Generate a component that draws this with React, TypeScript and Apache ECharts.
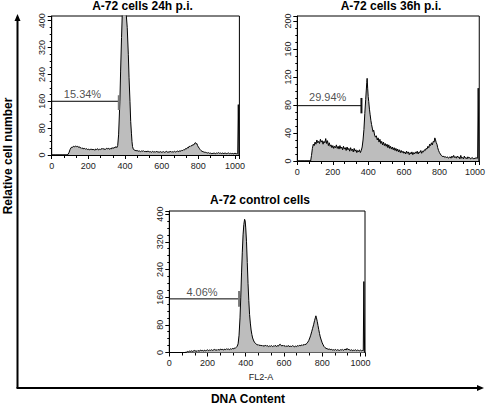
import React, { useEffect, useRef } from "react";
import * as echarts from "echarts";

const FONT = "'Liberation Sans', Arial, Helvetica, sans-serif";

const panelTitles = ["A-72 cells 24h p.i.", "A-72 cells 36h p.i.", "A-72 control cells"];
const percentLabels = ["15.34%", "29.94%", "4.06%"];
const xTickValues = [0, 200, 400, 600, 800, 1000];
const yTickValues24 = [0, 80, 160, 240, 320, 400];
const yTickValues36 = [0, 40, 80, 120, 160, 200];
const yTickValuesCtrl = [0, 80, 160, 240, 320, 400];

// [channel, count] pairs
const hist24h: [number, number][] = [
  [0,0],[20,0],[40,0],[60,0],[80,0],[88,1],[95,8],[100,16],[105,21],[110,24],[115,23],[120,26],[125,24],[130,27],[135,25],[140,26],[145,23],[150,25],[155,21],[160,22],[165,19],[170,21],[175,18],[180,20],[185,17],[190,19],[195,16],[200,18],[205,15],[210,17],[215,16],[220,18],[225,15],[230,17],[235,14],[240,18],[245,16],[250,19],[255,15],[260,17],[265,16],[270,19],[275,17],[280,20],[285,16],[290,18],[295,17],[300,20],[305,18],[310,21],[315,17],[320,19],[325,18],[330,22],[335,19],[340,23],[345,21],[350,25],[355,22],[360,28],[365,60],[372,160],[376,250],[381,350],[385,420],[390,460],[395,470],[400,455],[405,430],[412,380],[418,300],[422,230],[427,160],[431,100],[435,65],[438,40],[441,25],[445,18],[450,15],[455,13],[460,14],[465,12],[470,13],[475,11],[480,12],[485,10],[490,12],[495,11],[500,13],[505,10],[510,11],[515,9],[520,12],[525,10],[530,11],[535,9],[540,10],[545,8],[550,11],[555,9],[560,10],[565,8],[570,11],[575,9],[580,10],[585,8],[590,9],[595,10],[600,8],[605,9],[610,10],[615,8],[620,9],[625,11],[630,9],[635,8],[640,10],[645,9],[650,11],[655,8],[660,10],[665,9],[670,11],[675,9],[680,10],[685,12],[690,10],[695,11],[700,13],[705,11],[710,14],[715,13],[720,16],[725,15],[730,19],[735,18],[740,22],[745,21],[750,26],[755,25],[760,28],[765,27],[770,31],[775,30],[780,35],[784,37],[788,33],[792,34],[796,28],[800,24],[805,20],[810,16],[815,13],[820,11],[825,10],[830,9],[835,8],[840,8],[845,7],[850,6],[855,7],[860,5],[865,6],[870,4],[875,5],[880,4],[885,6],[890,5],[895,4],[900,6],[905,5],[910,7],[915,5],[920,6],[925,4],[930,6],[935,5],[940,4],[945,6],[950,5],[955,4],[960,5],[965,6],[970,4],[975,5],[980,4],[985,5],[990,3],[995,5],[1000,4],[1005,5],[1010,3],[1015,4],[1017,4],[1018,150],[1021,150],[1022,0]
];

const hist36h: [number, number][] = [
  [0,0],[20,0],[40,0],[60,0],[75,0],[80,8],[85,18],[90,24],[95,22],[100,27],[105,24],[110,30],[115,26],[120,28],[125,25],[130,31],[135,27],[140,29],[145,24],[150,28],[155,26],[160,32],[165,25],[170,29],[175,22],[180,26],[185,21],[190,23],[195,19],[200,22],[205,18],[210,21],[215,19],[220,23],[225,18],[230,21],[235,17],[240,22],[245,18],[250,20],[255,16],[260,21],[265,17],[270,19],[275,15],[280,20],[285,16],[290,18],[295,14],[300,19],[305,15],[310,17],[315,13],[320,18],[325,14],[330,16],[335,12],[340,15],[345,13],[350,16],[355,12],[360,15],[365,20],[370,30],[375,45],[380,68],[385,88],[388,100],[391,112],[393,118],[396,104],[399,92],[402,85],[406,74],[410,66],[414,58],[418,52],[422,47],[426,42],[430,44],[435,37],[440,34],[445,36],[450,30],[455,33],[460,27],[465,31],[470,25],[475,28],[480,23],[485,27],[490,22],[495,25],[500,21],[505,24],[510,19],[515,23],[520,18],[525,21],[530,17],[535,20],[540,16],[545,19],[550,15],[555,18],[560,14],[565,17],[570,13],[575,16],[580,12],[585,15],[590,12],[595,14],[600,11],[605,13],[610,10],[615,14],[620,11],[625,13],[630,9],[635,12],[640,10],[645,13],[650,9],[655,12],[660,10],[665,13],[670,11],[675,14],[680,10],[685,13],[690,12],[695,15],[700,11],[705,14],[710,13],[715,16],[720,15],[725,18],[730,17],[735,21],[740,19],[745,24],[750,22],[755,26],[760,23],[765,28],[770,27],[774,33],[778,30],[782,26],[786,24],[790,19],[795,15],[800,12],[805,10],[810,8],[815,7],[820,6],[825,7],[830,5],[835,6],[840,5],[845,6],[850,4],[855,5],[860,6],[865,4],[870,7],[875,5],[880,8],[885,5],[890,6],[895,4],[900,7],[905,5],[910,6],[915,3],[920,8],[925,4],[930,5],[935,3],[940,7],[945,4],[950,5],[955,3],[960,6],[965,4],[970,5],[975,3],[980,4],[985,5],[990,3],[995,4],[1000,3],[1005,5],[1010,4],[1015,4],[1017,4],[1018,104],[1021,104],[1022,0]
];

const histControl: [number, number][] = [
  [0,0],[20,0],[40,0],[60,0],[80,0],[90,1],[95,3],[100,2],[105,4],[110,3],[115,5],[120,3],[125,4],[130,6],[135,4],[140,5],[145,3],[150,6],[155,4],[160,5],[165,7],[170,5],[175,6],[180,4],[185,7],[190,5],[195,6],[200,8],[205,5],[210,7],[215,6],[220,8],[225,6],[230,7],[235,9],[240,7],[245,8],[250,6],[255,9],[260,7],[265,8],[270,10],[275,8],[280,9],[285,7],[290,10],[295,8],[300,11],[305,9],[310,10],[315,8],[320,11],[325,9],[330,12],[335,10],[340,13],[345,12],[350,15],[355,18],[360,25],[365,50],[370,100],[374,160],[378,230],[382,290],[386,340],[390,370],[394,385],[397,380],[400,360],[404,320],[408,260],[412,200],[416,150],[420,110],[424,85],[428,65],[432,52],[436,42],[440,36],[445,30],[450,27],[455,24],[460,22],[465,23],[470,20],[475,22],[480,19],[485,21],[490,18],[495,20],[500,19],[505,21],[510,18],[515,20],[520,17],[525,19],[530,18],[535,20],[540,17],[545,19],[550,18],[555,21],[560,17],[565,20],[570,18],[575,22],[580,24],[585,20],[590,19],[595,21],[600,18],[605,20],[610,17],[615,19],[620,18],[625,20],[630,16],[635,19],[640,17],[645,20],[650,18],[655,16],[660,19],[665,17],[670,20],[675,18],[680,21],[685,19],[690,22],[695,20],[700,23],[705,21],[710,24],[715,23],[720,27],[725,30],[730,35],[735,42],[740,50],[745,60],[750,70],[755,80],[760,92],[764,100],[767,106],[770,100],[774,90],[778,78],[782,66],[786,55],[790,45],[795,36],[800,28],[805,22],[810,17],[815,14],[820,12],[825,11],[830,10],[835,9],[840,10],[845,8],[850,9],[855,7],[860,8],[865,7],[870,9],[875,6],[880,8],[885,7],[890,6],[895,8],[900,7],[905,9],[910,6],[915,8],[920,10],[925,7],[930,12],[935,8],[940,9],[945,7],[950,6],[955,8],[960,5],[965,7],[970,6],[975,8],[980,5],[985,7],[990,6],[995,5],[1000,7],[1005,5],[1010,6],[1015,5],[1017,5],[1018,205],[1021,205],[1022,0]
];

// M1 marker: [start channel, end channel, height]
const markers: [number, number, number][] = [
  [0, 363, 160],
  [0, 360, 79],
  [0, 363, 155],
];
const markerTicks: [number, number, number][] = [
  [366, 134, 178],
  [361, 68, 90],
  [365, 132, 178],
];
const percentPos: [number, number][] = [
  [168, 182],
  [171, 92],
  [171, 174],
];
const yMax = [414, 207, 409];
const yInterval = [80, 40, 80];
const yTickSets = [yTickValues24, yTickValues36, yTickValuesCtrl];
const histograms = [hist24h, hist36h, histControl];

export default function App() {
  const ref = useRef<HTMLDivElement>(null);
  useEffect(() => {
    if (!ref.current) return;
    const chart = echarts.init(ref.current, undefined, { renderer: "svg" });

    const grids = [
      { left: 51.7, top: 16, width: 187.7, height: 139 },
      { left: 297.3, top: 16, width: 186.5, height: 145 },
      { left: 169.3, top: 211, width: 195.7, height: 141.5 },
    ].map((g) => ({ ...g, show: true, borderColor: "#000", borderWidth: 1, containLabel: false }));

    const xAxes = [0, 1, 2].map((i) => ({
      type: "value",
      gridIndex: i,
      min: 0,
      max: 1024,
      interval: 200,
      axisLine: { show: true, onZero: false, lineStyle: { color: "#000", width: 1 } },
      axisTick: { show: true, length: 4, lineStyle: { color: "#000" } },
      minorTick: { show: true, splitNumber: 3, length: 3, lineStyle: { color: "#000" } },
      axisLabel: {
        fontSize: 9,
        color: "#222",
        margin: 6,
        fontFamily: FONT,
        formatter: (v: number) => (xTickValues.includes(v) ? String(v) : ""),
      },
      splitLine: { show: false },
    }));

    const yAxes = [0, 1, 2].map((i) => ({
      type: "value",
      gridIndex: i,
      min: 0,
      max: yMax[i],
      interval: yInterval[i],
      axisLine: { show: true, lineStyle: { color: "#000", width: 1 } },
      axisTick: { show: true, length: 4, lineStyle: { color: "#000" } },
      minorTick: { show: true, splitNumber: 4, length: 2, lineStyle: { color: "#000" } },
      axisLabel: {
        fontSize: 9,
        color: "#222",
        margin: 5,
        rotate: 90,
        fontFamily: FONT,
        formatter: (v: number) => (yTickSets[i].includes(v) ? String(v) : ""),
      },
      splitLine: { show: false },
    }));

    const series: any[] = [];
    histograms.forEach((h, i) => {
      series.push({
        type: "line",
        xAxisIndex: i,
        yAxisIndex: i,
        data: h,
        symbol: "none",
        showSymbol: false,
        clip: true,
        lineStyle: { color: "#000", width: 1 },
        areaStyle: { color: "#bdbdbd", opacity: 1 },
        silent: true,
        z: 2,
      });
      const [x0, x1, yy] = markers[i];
      series.push({
        type: "line",
        xAxisIndex: i,
        yAxisIndex: i,
        data: [[x0, yy], [x1, yy]],
        symbol: "none",
        lineStyle: { color: "#000", width: 1 },
        silent: true,
        z: 3,
      });
      const [tx, ty0, ty1] = markerTicks[i];
      series.push({
        type: "line",
        xAxisIndex: i,
        yAxisIndex: i,
        data: [[tx, ty0], [tx, ty1]],
        symbol: "none",
        lineStyle: { color: i === 1 ? "#111" : "#777", width: 2 },
        silent: true,
        z: 3,
      });
      series.push({
        type: "scatter",
        xAxisIndex: i,
        yAxisIndex: i,
        data: [percentPos[i]],
        symbolSize: 1,
        itemStyle: { color: "rgba(0,0,0,0)" },
        label: {
          show: true,
          position: "inside",
          formatter: percentLabels[i],
          fontSize: 11,
          color: "#222",
          fontFamily: FONT,
        },
        silent: true,
        z: 4,
      });
    });

    const titleStyle = { fontSize: 12, fontWeight: "bold", fill: "#000", fontFamily: FONT, textAlign: "center", textVerticalAlign: "middle" };

    chart.setOption({
      animation: false,
      backgroundColor: "#fff",
      grid: grids,
      xAxis: xAxes,
      yAxis: yAxes,
      series,
      graphic: [
        { type: "text", x: 142.5, y: 6, style: { ...titleStyle, text: panelTitles[0] } },
        { type: "text", x: 391, y: 6, style: { ...titleStyle, text: panelTitles[1] } },
        { type: "text", x: 260, y: 200, style: { ...titleStyle, text: panelTitles[2] } },
        { type: "text", x: 261, y: 377, style: { fontSize: 9, fill: "#222", fontFamily: FONT, textAlign: "center", textVerticalAlign: "middle", text: "FL2-A" } },
        { type: "line", shape: { x1: 17.5, y1: 388, x2: 17.5, y2: 19 }, style: { stroke: "#000", lineWidth: 2 } },
        { type: "polygon", shape: { points: [[14.5, 21], [20.5, 21], [17.5, 14]] }, style: { fill: "#000" } },
        { type: "line", shape: { x1: 16.5, y1: 388, x2: 479, y2: 388 }, style: { stroke: "#000", lineWidth: 2 } },
        { type: "polygon", shape: { points: [[477, 385], [477, 391], [484, 388]] }, style: { fill: "#000" } },
        { type: "text", x: 8, y: 156, rotation: Math.PI / 2, style: { fontSize: 12, fontWeight: "bold", fill: "#000", fontFamily: FONT, textAlign: "center", textVerticalAlign: "middle", text: "Relative cell number" } },
        { type: "text", x: 248, y: 399, style: { fontSize: 12, fontWeight: "bold", fill: "#000", fontFamily: FONT, textAlign: "center", textVerticalAlign: "middle", text: "DNA Content" } },
      ],
    });
    return () => chart.dispose();
  }, []);

  return (
    <div
      ref={ref}
      style={{ position: "fixed", left: 0, top: 0, width: 488, height: 405, background: "#fff" }}
    />
  );
}
